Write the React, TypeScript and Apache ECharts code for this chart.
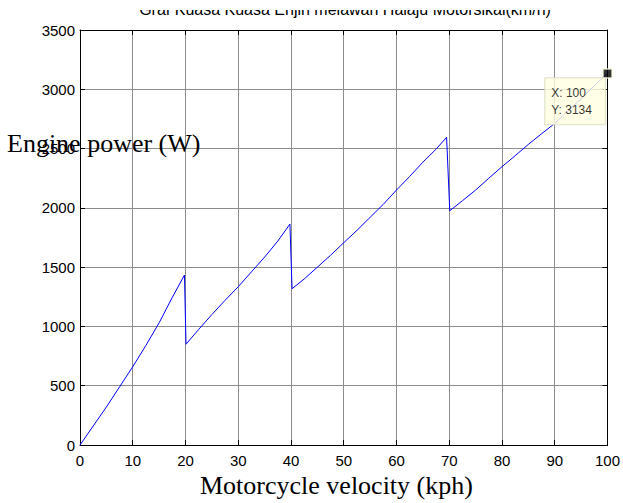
import React, { useEffect, useRef } from "react";
import * as echarts from "echarts";

const titleText = "Graf Kuasa Kuasa Enjin melawan Halaju Motorsikal(km/h)";
const xName = "Motorcycle velocity (kph)";
const yName = "Engine power (W)";

const velocity = [
  0, 2.5, 5, 7.5, 10, 12.5, 15, 17.5, 19.8,
  20.1, 22.5, 25, 27.5, 30, 32.5, 35, 37.5, 39.8,
  40.2, 42.5, 45, 47.5, 50, 52.5, 55, 57.5, 60, 62.5, 65, 67.5, 69.5,
  70.1, 72.5, 75, 77.5, 80, 82.5, 85, 87.5, 90, 92.5, 95, 97.5, 100,
];
const power = [
  0, 160, 320, 490, 660, 840, 1030, 1245, 1433,
  850, 975, 1100, 1220, 1335, 1460, 1585, 1720, 1863,
  1318, 1400, 1500, 1600, 1706, 1810, 1920, 2030, 2150, 2265, 2385, 2495, 2595,
  1976, 2060, 2150, 2250, 2347, 2440, 2535, 2625, 2712, 2820, 2920, 3030, 3134,
];

const X_MIN = 0, X_MAX = 100, X_STEP = 10;
const Y_MIN = 0, Y_MAX = 3500, Y_STEP = 500;

const SANS = "'Liberation Sans', Arial, sans-serif";
const SERIF = "'Liberation Serif', 'Times New Roman', serif";

export default function App() {
  const ref = useRef<HTMLDivElement>(null);
  useEffect(() => {
    document.body.style.margin = "0";
    const chart = echarts.init(ref.current!, null, { renderer: "svg" });
    const lineData = velocity.map((v, i) => [v, power[i]]);
    const last = lineData[lineData.length - 1];
    const tickStyle = { inside: true, length: 5, lineStyle: { color: "#000", width: 1 } };
    const axisLine = { show: true, onZero: false, lineStyle: { color: "#000", width: 1 } };
    chart.setOption({
      animation: false,
      backgroundColor: "#fff",
      grid: { left: 80, right: 13, top: 30, bottom: 58, containLabel: false },
      xAxis: [
        {
          type: "value", min: X_MIN, max: X_MAX, interval: X_STEP, position: "bottom",
          axisLine, axisTick: tickStyle,
          axisLabel: { margin: 8, fontFamily: SANS, fontSize: 15, color: "#000", formatter: (v: number) => String(v) },
          splitLine: { show: true, lineStyle: { color: "#8c8c8c", width: 1 } },
        },
        {
          type: "value", min: X_MIN, max: X_MAX, interval: X_STEP, position: "top",
          axisLine, axisTick: tickStyle, axisLabel: { show: false }, splitLine: { show: false },
        },
      ],
      yAxis: [
        {
          type: "value", min: Y_MIN, max: Y_MAX, interval: Y_STEP, position: "left",
          axisLine, axisTick: tickStyle,
          axisLabel: { margin: 5, fontFamily: SANS, fontSize: 15, color: "#000", formatter: (v: number) => String(v) },
          splitLine: { show: true, lineStyle: { color: "#8c8c8c", width: 1 } },
        },
        {
          type: "value", min: Y_MIN, max: Y_MAX, interval: Y_STEP, position: "right",
          axisLine, axisTick: tickStyle, axisLabel: { show: false }, splitLine: { show: false },
        },
      ],
      series: [
        {
          type: "line",
          data: lineData,
          showSymbol: false,
          symbol: "none",
          lineStyle: { color: "#0000ff", width: 1 },
          z: 2,
        },
        {
          type: "scatter",
          data: [last],
          symbol: "rect",
          symbolSize: 9,
          itemStyle: { color: "#000", borderColor: "#ffffe1", borderWidth: 1.5 },
          z: 5,
          label: {
            show: true,
            position: [-57, 10],
            formatter: (p: any) => `X: ${p.value[0]}\nY: ${p.value[1]}`,
            fontFamily: SANS,
            fontSize: 12,
            lineHeight: 17,
            color: "#000",
            align: "left",
            verticalAlign: "top",
            backgroundColor: "#ffffe1",
            borderColor: "#d8d8c0",
            borderWidth: 1,
            width: 42,
            padding: [6, 12, 6, 6],
          },
        },
      ],
      graphic: [
        {
          type: "text",
          z: 50,
          x: 345,
          y: 17,
          style: { text: titleText, font: `16px ${SANS}`, fill: "#000", align: "center", verticalAlign: "bottom" },
        },
        {
          type: "rect",
          z: 100,
          shape: { x: 0, y: 0, width: 623, height: 10 },
          style: { fill: "#fff" },
        },
        {
          type: "text",
          z: 50,
          x: 7,
          y: 143,
          style: { text: yName, font: `26px ${SERIF}`, fill: "#000", verticalAlign: "middle", align: "left" },
        },
        {
          type: "text",
          z: 50,
          x: 200,
          y: 485,
          style: { text: xName, font: `26px ${SERIF}`, fill: "#000", verticalAlign: "middle", align: "left" },
        },
      ],
    });
    return () => chart.dispose();
  }, []);
  return <div ref={ref} style={{ width: 623, height: 503 }} />;
}
